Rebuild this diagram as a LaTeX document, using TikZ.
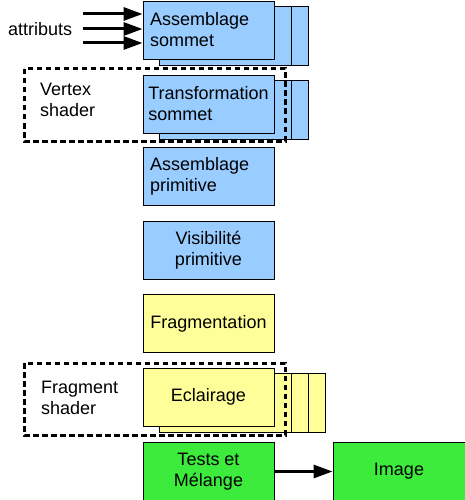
\documentclass[tikz,border=0pt]{standalone}
\usepackage{fontspec}
\setmainfont{Liberation Sans}
\usetikzlibrary{arrows.meta,backgrounds}
\definecolor{bblue}{RGB}{153,204,255}
\definecolor{byellow}{RGB}{255,255,153}
\definecolor{bgreen}{RGB}{61,235,61}
\tikzset{
  stage/.style={draw=black, line width=0.9pt, minimum width=131pt, minimum height=58pt, inner sep=0pt, font=\fontsize{18pt}{21pt}\selectfont},
  lefttext/.style={text width=117pt, align=left},
  copybox/.style={draw=black, line width=0.9pt},
  shaderbox/.style={draw=black, line width=3pt, dash pattern=on 5.5pt off 3.5pt},
  flow/.style={line width=3pt, -{Triangle[length=19pt,width=13pt]}},
  lbl/.style={align=left, inner sep=0pt, font=\fontsize{18pt}{21pt}\selectfont}
}
\newcommand\stackcopies[3]{%
  \begin{pgfonlayer}{background}
  \foreach \dx in {#3} {
    \draw[copybox, fill=#2] ([shift={(\dx,6)}]#1.north west) rectangle ([shift={(\dx,6)}]#1.south east);
  }
  \end{pgfonlayer}}
\begin{document}
\begin{tikzpicture}[x=1pt,y=-1pt]
\useasboundingbox (0,0) rectangle (465,500);
\node[stage, fill=bblue, lefttext] (vs) at (208.5,30) {Assemblage\\sommet};
\stackcopies{vs}{bblue}{34,17}
\node[stage, fill=bblue, align=left] (ts) at (208.5,104) {Transformation\\sommet};
\stackcopies{ts}{bblue}{34,17}
\node[stage, fill=bblue, lefttext] (ap) at (208.5,176.5) {Assemblage\\primitive};
\node[stage, fill=bblue, align=center] (vp) at (208.5,250.5) {Visibilité\\primitive};
\node[stage, fill=byellow] (fr) at (208.5,323.5) {Fragmentation};
\node[stage, fill=byellow] (ec) at (208.5,397) {Eclairage};
\stackcopies{ec}{byellow}{51,34,17}
\node[stage, fill=bgreen, align=center] (tm) at (208.5,471.5) {Tests et\\Mélange};
\node[stage, fill=bgreen, minimum width=132pt] (img) at (399,471.5) {Image};
\draw[flow] (tm) -- (img);
% attributes
\node[lbl, anchor=west] (attr) at (8,29) {attributs};
\coordinate (at1) at (83,14);
\coordinate (at2) at (83,29);
\coordinate (at3) at (83,43);
\draw[flow] (at1) -- (at1 -| vs.west);
\draw[flow] (at2) -- (at2 -| vs.west);
\draw[flow] (at3) -- (at3 -| vs.west);
% shader groups
\draw[shaderbox] (24,69) rectangle (285,141);
\node[lbl, anchor=west] (vsh) at (40,100) {Vertex\\shader};
\draw[shaderbox] (24,363) rectangle (285,435);
\node[lbl, anchor=west] (fsh) at (41,398) {Fragment\\shader};
\end{tikzpicture}
\end{document}
